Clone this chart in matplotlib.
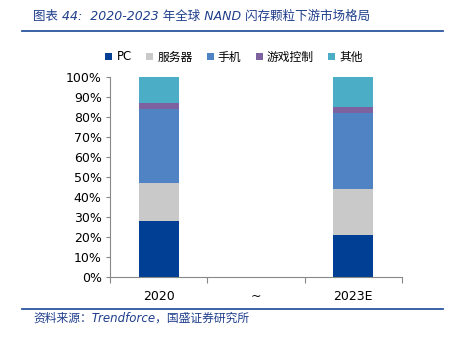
import matplotlib
matplotlib.use("Agg")
import matplotlib.pyplot as plt
from matplotlib.patches import Patch
from matplotlib.lines import Line2D

plt.rcParams['font.family'] = ['DejaVu Sans', 'Noto Sans CJK SC']

categories = ['2020', '~', '2023E']
series = ['PC', '服务器', '手机', '游戏控制', '其他']
colors = ['#003F94', '#C9C9C9', '#4F83C4', '#7E62A0', '#4BADC6']
# shares in %, None for the gap column
pc = [28, None, 21]
server = [19, None, 23]
phone = [37, None, 38]
gaming = [3, None, 3]
other = [13, None, 15]
values = [pc, server, phone, gaming, other]

fig = plt.figure(figsize=(4.5, 3.42), dpi=100)
ax = fig.add_axes([110 / 450, 1 - 277.3 / 342, 292 / 450, 200.6 / 342])

x = range(len(categories))
bottoms = [0, 0, 0]
for name, vals, c in zip(series, values, colors):
    for i in x:
        if vals[i] is None:
            continue
        ax.bar(i, vals[i], width=0.41, bottom=bottoms[i], color=c, edgecolor='none')
        bottoms[i] += vals[i]

ax.set_xlim(-0.5, 2.5)
ax.set_ylim(0, 100)
ax.set_yticks(range(0, 101, 10))
ax.set_yticklabels(['{}%'.format(v) for v in range(0, 101, 10)], fontsize=9)
ax.set_xticks([-0.5, 0.5, 1.5, 2.5], minor=False)
ax.set_xticklabels([])
ax.set_xticks(list(x), minor=True)
ax.set_xticklabels(categories, minor=True, fontsize=9)
ax.tick_params(axis='x', which='minor', length=0, pad=9)
ax.tick_params(axis='x', which='major', length=4, color='#888888')
ax.tick_params(axis='y', length=3, color='#888888', pad=3)
for s in ['top', 'right']:
    ax.spines[s].set_visible(False)
ax.spines['left'].set_color('#888888')
ax.spines['bottom'].set_color('#888888')

handles = [Patch(facecolor=c, edgecolor='none') for c in colors]
fig.legend(handles, series, loc='center', bbox_to_anchor=(234 / 450, 1 - 57 / 342),
           ncol=5, frameon=False, fontsize=8.5, handlelength=0.6, handleheight=0.6,
           handletextpad=0.35, columnspacing=1.2)

fig.text(33 / 450, 1 - 16 / 342, '图表 44:  2020-2023 年全球 NAND 闪存颗粒下游市场格局',
         fontsize=9, color='#1F3E8C', style='italic', va='center')
fig.add_artist(Line2D([22 / 450, 443 / 450], [1 - 31 / 342, 1 - 31 / 342],
                      color='#2B56A0', lw=1.3))
fig.add_artist(Line2D([22 / 450, 443 / 450], [1 - 309 / 342, 1 - 309 / 342],
                      color='#2B56A0', lw=1.3))
fig.text(33 / 450, 1 - 318 / 342, '资料来源：Trendforce，国盛证券研究所',
         fontsize=8.5, color='#1F3E8C', style='italic', va='center')

fig.savefig('out.png', dpi=100)
